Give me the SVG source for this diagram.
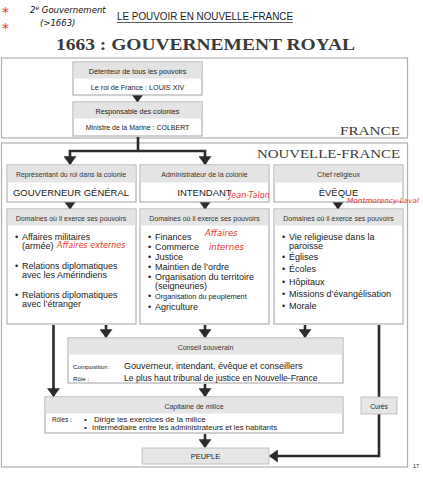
<svg xmlns="http://www.w3.org/2000/svg" width="423" height="480" viewBox="0 0 423 480">
<defs>
<style>
.sans{font-family:"Liberation Sans",Arial,sans-serif;fill:#222}
.serif{font-family:"Liberation Serif","Times New Roman",serif;fill:#3a3a3a}
.panel{fill:#fff;stroke:#b0b0b0;stroke-width:1.2}
.box{fill:#fff;stroke:#a0a0a0;stroke-width:1}
.band{fill:#e4e4e4}
.hdr{font-size:7px;fill:#333}
.item{font-size:9px}
.con{fill:none;stroke:#2b2b2b;stroke-width:2.6}
.hand{font-family:"DejaVu Sans",sans-serif;font-style:italic}
.red{fill:#e8362f}
</style>
<marker id="ah" markerWidth="3.4" markerHeight="5" refX="3" refY="2.5" orient="auto" markerUnits="strokeWidth">
<path d="M0,0 L3.4,2.5 L0,5 z" fill="#2b2b2b"/>
</marker>
</defs>
<rect width="423" height="480" fill="#fff"/>

<!-- titles -->
<g id="titles">
<text x="117" y="20" class="sans" font-size="10" textLength="176" lengthAdjust="spacingAndGlyphs" fill="#222">LE POUVOIR EN NOUVELLE-FRANCE</text>
<line x1="117" y1="22.5" x2="293" y2="22.5" stroke="#333" stroke-width="0.8"/>
<text x="56" y="50" class="serif" font-size="17.5" font-weight="bold" fill="#4a4a4a" textLength="299" lengthAdjust="spacingAndGlyphs">1663 : GOUVERNEMENT ROYAL</text>
<text x="413" y="468" class="sans" font-size="5.5">17</text>
</g>

<!-- panels -->
<g id="panel-france">
<rect x="1.5" y="58" width="406" height="80" class="panel"/>
<text x="340" y="135" class="serif" font-size="12.5" textLength="60" lengthAdjust="spacingAndGlyphs">FRANCE</text>
</g>
<g id="panel-nf">
<rect x="1.5" y="143" width="406" height="324" class="panel"/>
<text x="257" y="158" class="serif" font-size="12.5" textLength="143" lengthAdjust="spacingAndGlyphs">NOUVELLE-FRANCE</text>
</g>

<!-- connectors -->
<g id="connectors">
<line x1="137.5" y1="96" x2="137.5" y2="101.5" class="con" marker-end="url(#ah)"/>
<path d="M138,137 V151 H70 V164" class="con" marker-end="url(#ah)"/>
<path d="M138,151 H205 V164" class="con" marker-end="url(#ah)"/>
<line x1="70" y1="203" x2="70" y2="208.5" class="con" marker-end="url(#ah)"/>
<line x1="205" y1="203" x2="205" y2="208.5" class="con" marker-end="url(#ah)"/>
<line x1="338" y1="203" x2="338" y2="208.5" class="con" marker-end="url(#ah)"/>
<line x1="106" y1="325" x2="106" y2="337" class="con" marker-end="url(#ah)"/>
<line x1="205" y1="325" x2="205" y2="337" class="con" marker-end="url(#ah)"/>
<line x1="305" y1="325" x2="305" y2="337" class="con" marker-end="url(#ah)"/>
<line x1="53.5" y1="325" x2="53.5" y2="396" class="con" marker-end="url(#ah)"/>
<line x1="205" y1="384" x2="205" y2="396" class="con" marker-end="url(#ah)"/>
<line x1="205" y1="434" x2="205" y2="447" class="con" marker-end="url(#ah)"/>
<line x1="379" y1="325" x2="379" y2="397" class="con"/>
<path d="M379,414 V456 H270" class="con" marker-end="url(#ah)"/>
</g>

<!-- France nodes -->
<g id="node-roi">
<rect x="73" y="62" width="129" height="33" class="box"/>
<rect x="73.5" y="62.5" width="128" height="16" class="band"/>
<text x="137.5" y="74" class="sans" font-size="7.2" text-anchor="middle">Détenteur de tous les pouvoirs</text>
<text x="137.5" y="90" class="sans" font-size="7.2" text-anchor="middle">Le roi de France : LOUIS XIV</text>
</g>
<g id="node-colbert">
<rect x="73" y="102" width="129" height="34" class="box"/>
<rect x="73.5" y="102.5" width="128" height="16" class="band"/>
<text x="137.5" y="114" class="sans" font-size="7.2" text-anchor="middle">Responsable des colonies</text>
<text x="137.5" y="130" class="sans" font-size="7" text-anchor="middle">Ministre de la Marine : COLBERT</text>
</g>

<!-- Nouvelle-France top nodes -->
<g id="node-gouverneur">
<rect x="7" y="165" width="129" height="37" class="box"/>
<rect x="7.5" y="165.5" width="128" height="17" class="band"/>
<text x="71" y="176.5" class="sans hdr" font-size="6.6" text-anchor="middle">Représentant du roi dans la colonie</text>
<text x="71" y="196" class="sans" font-size="9.5" text-anchor="middle">GOUVERNEUR GÉNÉRAL</text>
</g>
<g id="node-intendant">
<rect x="140" y="165" width="129" height="37" class="box"/>
<rect x="140.5" y="165.5" width="128" height="17" class="band"/>
<text x="204.5" y="176.5" class="sans hdr" font-size="6.6" text-anchor="middle">Administrateur de la colonie</text>
<text x="204.5" y="196" class="sans" font-size="9.5" text-anchor="middle">INTENDANT</text>
</g>
<g id="node-eveque">
<rect x="274" y="165" width="129" height="37" class="box"/>
<rect x="274.5" y="165.5" width="128" height="17" class="band"/>
<text x="338.5" y="176.5" class="sans hdr" font-size="6.6" text-anchor="middle">Chef religieux</text>
<text x="338.5" y="196" class="sans" font-size="9.5" text-anchor="middle">ÉVÊQUE</text>
</g>

<!-- Domain nodes -->
<g id="node-domaines-gouverneur">
<rect x="7" y="209" width="129" height="115" class="box"/>
<rect x="7.5" y="209.5" width="128" height="16" class="band"/>
<text x="71" y="220.5" class="sans hdr" font-size="6.6" text-anchor="middle">Domaines où il exerce ses pouvoirs</text>
<g class="sans item">
<text x="15" y="240">•</text><text x="22" y="240">Affaires militaires</text>
<text x="22" y="248.5">(armée)</text>
<text x="15" y="269">•</text><text x="22" y="269">Relations diplomatiques</text>
<text x="22" y="277.5">avec les Amérindiens</text>
<text x="15" y="298">•</text><text x="22" y="298">Relations diplomatiques</text>
<text x="22" y="306.5">avec l’étranger</text>
</g>
</g>
<g id="node-domaines-intendant">
<rect x="140" y="209" width="129" height="115" class="box"/>
<rect x="140.5" y="209.5" width="128" height="16" class="band"/>
<text x="204.5" y="220.5" class="sans hdr" font-size="6.6" text-anchor="middle">Domaines où il exerce ses pouvoirs</text>
<g class="sans item">
<text x="148" y="240">•</text><text x="155" y="240">Finances</text>
<text x="148" y="250">•</text><text x="155" y="250">Commerce</text>
<text x="148" y="260">•</text><text x="155" y="260">Justice</text>
<text x="148" y="270">•</text><text x="155" y="270">Maintien de l’ordre</text>
<text x="148" y="280">•</text><text x="155" y="280">Organisation du territoire</text>
<text x="155" y="288.5">(seigneuries)</text>
<text x="148" y="299">•</text><text x="155" y="299" font-size="7.3">Organisation du peuplement</text>
<text x="148" y="310">•</text><text x="155" y="310">Agriculture</text>
</g>
</g>
<g id="node-domaines-eveque">
<rect x="274" y="209" width="129" height="115" class="box"/>
<rect x="274.5" y="209.5" width="128" height="16" class="band"/>
<text x="338.5" y="220.5" class="sans hdr" font-size="6.6" text-anchor="middle">Domaines où il exerce ses pouvoirs</text>
<g class="sans item">
<text x="282" y="239.5">•</text><text x="289" y="239.5">Vie religieuse dans la</text>
<text x="289" y="248.5">paroisse</text>
<text x="282" y="260">•</text><text x="289" y="260">Églises</text>
<text x="282" y="272">•</text><text x="289" y="272">Écoles</text>
<text x="282" y="285">•</text><text x="289" y="285">Hôpitaux</text>
<text x="282" y="297">•</text><text x="289" y="297">Missions d’évangélisation</text>
<text x="282" y="309">•</text><text x="289" y="309">Morale</text>
</g>
</g>

<!-- Conseil souverain -->
<g id="node-conseil">
<rect x="68" y="338" width="275" height="45" class="box"/>
<rect x="68.5" y="338.5" width="274" height="16" class="band"/>
<text x="205.5" y="349.5" class="sans hdr" font-size="7" text-anchor="middle">Conseil souverain</text>
<text x="73" y="369" class="sans" font-size="6.2" fill="#333">Composition :</text>
<text x="124" y="369" class="sans" font-size="9">Gouverneur, intendant, évêque et conseillers</text>
<text x="73" y="381" class="sans" font-size="6.2" fill="#333">Rôle :</text>
<text x="124" y="381" class="sans" font-size="8.6">Le plus haut tribunal de justice en Nouvelle-France</text>
</g>

<!-- Capitaine de milice -->
<g id="node-capitaine">
<rect x="45" y="397" width="298" height="36" class="box"/>
<rect x="45.5" y="397.5" width="297" height="16" class="band"/>
<text x="194" y="408.5" class="sans hdr" font-size="7" text-anchor="middle">Capitaine de milice</text>
<text x="52" y="422" class="sans" font-size="6.3" fill="#333">Rôles :</text>
<text x="84" y="421.5" class="sans" font-size="8">•</text>
<text x="94" y="421.5" class="sans" font-size="8">Dirige les exercices de la milice</text>
<text x="84" y="429.5" class="sans" font-size="8">•</text>
<text x="92" y="429.5" class="sans" font-size="7.7">Intermédiaire entre les administrateurs et les habitants</text>
</g>

<!-- Curés -->
<g id="node-cures">
<rect x="361" y="397" width="36" height="17" fill="#e6e6e6" stroke="#b5b5b5" stroke-width="0.8"/>
<text x="379" y="408.5" class="sans" font-size="6.6" text-anchor="middle">Curés</text>
</g>

<!-- Peuple -->
<g id="node-peuple">
<rect x="142" y="448" width="127" height="16" fill="#e6e6e6" stroke="#b5b5b5" stroke-width="0.8"/>
<text x="205.5" y="459" class="sans" font-size="7.5" text-anchor="middle">PEUPLE</text>
</g>

<!-- annotations -->
<g id="annotations">
<text x="2" y="17" class="hand red" font-size="14">*</text>
<text x="2" y="33" class="hand red" font-size="14">*</text>
<text x="30" y="13" class="hand" font-size="8.5" fill="#111">2<tspan font-size="6" dy="-3">e</tspan><tspan dy="3"> Gouvernement</tspan></text>
<text x="40" y="26" class="hand" font-size="8.5" fill="#111">(&gt;1663)</text>
<text x="57" y="248" class="hand red" font-size="8">Affaires externes</text>
<text x="205" y="236" class="hand red" font-size="8.5">Affaires</text>
<text x="209" y="250" class="hand red" font-size="8.5">internes</text>
<text x="229" y="198" class="hand red" font-size="8">Jean-Talon</text>
<text x="347" y="203" class="hand red" font-size="7" textLength="72" lengthAdjust="spacingAndGlyphs">Montmorency-Laval</text>
</g>
</svg>
